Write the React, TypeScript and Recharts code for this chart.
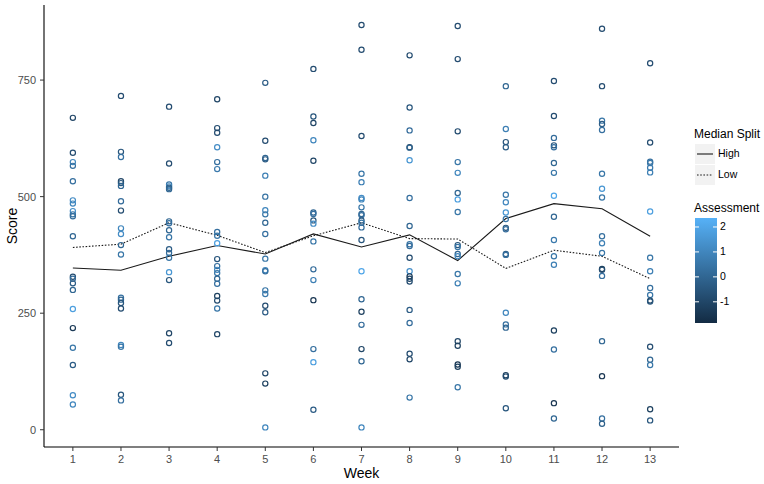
import { ComposedChart, Line, Scatter, XAxis, YAxis } from "recharts"

// week -> [score, assessment]
const week1 = [[669, -1], [594, -0.8], [574, 1], [566, 0.3], [533, 0.3], [492, 1.2], [485, 1], [469, 1.3], [462, 0.5], [458, 0.2], [415, 0], [328, -0.8], [324, 0.2], [314, -0.3], [300, 0], [259, 1.8], [218, -1.4], [176, 0.5], [139, -0.3], [74, 1.2], [54, 1]]
const week2 = [[716, -0.8], [596, -0.5], [585, 0.3], [533, -1], [529, -0.5], [523, 0], [490, 0.2], [470, -0.8], [432, 1], [420, 1.2], [396, 0], [376, 0.5], [283, 0.3], [279, 0], [272, -0.5], [260, -0.8], [182, 1], [178, 0.5], [75, -0.5], [63, 0.3]]
const week3 = [[693, -0.8], [571, -0.8], [526, 0.5], [522, 1], [519, -0.2], [516, 0], [447, 0], [443, 0.3], [428, 0], [413, 0.5], [387, -0.3], [379, 0.2], [369, 0.5], [338, 1.5], [321, -0.5], [207, -1], [186, -0.8]]
const week4 = [[709, -1], [647, -0.8], [637, -0.8], [606, 1.2], [574, 0.3], [559, 0.6], [424, 0.3], [416, 0.5], [400, 1.8], [366, -0.5], [351, 0.3], [343, 1], [336, 0.5], [324, 0], [313, 0.3], [287, -1.2], [277, -0.8], [260, 0.5], [205, -1]]
const week5 = [[744, -0.3], [620, -0.8], [583, 0], [580, -0.3], [545, 0.8], [500, 0.4], [471, 1], [462, 0.5], [444, 0], [420, 0.3], [367, 0.5], [342, 1], [340, 0.3], [299, 0.5], [291, 0.6], [266, -0.8], [252, -0.3], [121, -1], [99, -1.2], [5, 1]]
const week6 = [[774, -0.8], [672, -0.5], [658, -1], [621, 1], [577, -1], [466, 0], [463, 0.3], [449, -0.5], [442, 1.2], [404, 0.5], [344, 0.2], [321, 0.8], [278, -1.5], [173, 0.3], [145, 1.8], [43, -0.3]]
const week7 = [[868, -0.8], [815, -0.8], [630, -0.8], [549, 0.5], [531, 0.8], [497, 1.2], [494, 1], [477, 0.5], [463, 0], [460, 0.3], [449, -0.3], [444, 0.5], [434, 0.2], [407, -0.5], [340, 2], [280, 0], [253, -1.2], [225, 0.2], [173, -1], [147, 0], [5, 1]]
const week8 = [[803, -0.8], [691, -0.5], [642, 0.2], [606, -1.2], [605, 0], [578, 1.5], [497, 0.3], [437, 0], [398, 0.5], [394, 0.2], [369, -0.8], [340, 1.3], [329, -1.5], [324, -1], [318, -0.8], [257, -0.3], [229, 0.2], [163, -0.8], [151, -1], [69, 0.5]]
const week9 = [[866, -0.8], [795, -0.8], [640, -0.8], [574, 0.5], [551, 1], [508, 0], [494, 1.8], [467, 0.5], [396, -0.5], [392, 0.5], [377, 0], [372, 1], [334, 0.5], [314, 0.8], [190, -1], [180, -1.2], [140, -1.5], [135, -1.2], [91, 0.5]]
const week10 = [[737, 0], [645, 0.8], [617, -0.5], [606, -0.3], [504, 0.5], [488, 1], [466, 1.5], [452, 0.5], [433, -0.5], [430, 0.2], [377, -0.2], [375, 0.3], [251, 1], [226, 0.3], [219, 0], [117, -1.2], [114, -0.8], [46, -0.5]]
const week11 = [[748, -0.8], [673, -0.8], [626, 0.2], [610, -0.5], [606, 0.3], [572, 0], [551, 0.5], [502, 2], [457, 0], [407, 0.6], [372, 0.5], [354, 0.8], [213, -1.2], [172, 0.3], [57, -1.5], [24, 0]]
const week12 = [[860, -0.8], [737, -0.8], [663, 0.5], [656, -0.3], [643, 0.3], [549, 0.5], [517, 1.5], [498, 0.5], [415, 0.3], [400, 0.8], [379, 0.5], [345, -1.2], [343, -0.8], [330, 0.3], [190, 0], [115, -1.5], [24, 0.3], [13, -0.2]]
const week13 = [[786, -0.8], [616, -0.8], [575, 0.3], [572, 0.5], [562, 0.6], [552, 0.8], [468, 1.8], [369, 0.5], [340, 0.8], [304, 0.3], [289, 0.5], [277, -1.2], [275, -0.5], [178, -0.8], [150, 0], [139, 0.5], [44, -1.2], [20, -0.5]]

const weeks = [1, 2, 3, 4, 5, 6, 7, 8, 9, 10, 11, 12, 13]
const highMedian = [347, 342, 372, 395, 377, 420, 392, 418, 363, 453, 485, 474, 415]
const lowMedian = [391, 398, 444, 417, 380, 416, 444, 410, 409, 346, 385, 372, 324]
const yTicks = [0, 250, 500, 750]
const legendTicks = [2, 1, 0, -1]

const allWeeks = [week1, week2, week3, week4, week5, week6, week7, week8, week9, week10, week11, week12, week13]
const points = allWeeks.flatMap((pts, i) => pts.map(([score, assess]) => ({ week: weeks[i], score, assess })))
const lineRows = weeks.map((w, i) => ({ week: w, high: highMedian[i], low: lowMedian[i] }))

// ggplot default continuous scale
const ASSESS_MIN = -1.85
const ASSESS_MAX = 2.36
const LOW_RGB = [0x13, 0x2b, 0x43]
const HIGH_RGB = [0x56, 0xb1, 0xf7]

function colorOf(v: number) {
  const t = Math.max(0, Math.min(1, (v - ASSESS_MIN) / (ASSESS_MAX - ASSESS_MIN)))
  const c = LOW_RGB.map((lo, k) => Math.round(lo + (HIGH_RGB[k] - lo) * t))
  return `rgb(${c[0]},${c[1]},${c[2]})`
}

const FONT = "'Liberation Sans', Arial, sans-serif"
const BAR_TOP = 218
const BAR_H = 105

function Legend() {
  const pxPerUnit = BAR_H / (ASSESS_MAX - ASSESS_MIN)
  return (
    <div style={{ position: "absolute", left: 694, top: 0, fontFamily: FONT, color: "#000" }}>
      <div style={{ position: "absolute", top: 127, left: 0, fontSize: 12, whiteSpace: "nowrap" }}>Median Split</div>
      {[
        { label: "High", dash: undefined as string | undefined, top: 144 },
        { label: "Low", dash: "1.6 1.6", top: 165 },
      ].map((k) => (
        <div key={k.label}>
          <svg style={{ position: "absolute", left: 1, top: k.top }} width={20} height={20}>
            <rect x={0} y={0} width={20} height={20} fill="#f2f2f2" />
            <line x1={2} x2={18} y1={10} y2={10} stroke="#1a1a1a" strokeWidth={1.1} strokeDasharray={k.dash} />
          </svg>
          <div style={{ position: "absolute", left: 24, top: k.top + 3, fontSize: 10.5 }}>{k.label}</div>
        </div>
      ))}
      <div style={{ position: "absolute", top: 201, left: 0, fontSize: 12, whiteSpace: "nowrap" }}>Assessment</div>
      <svg style={{ position: "absolute", left: 1, top: BAR_TOP }} width={22} height={BAR_H}>
        <defs>
          <linearGradient id="assessGrad" x1="0" y1="0" x2="0" y2="1">
            <stop offset="0%" stopColor={colorOf(ASSESS_MAX)} />
            <stop offset="100%" stopColor={colorOf(ASSESS_MIN)} />
          </linearGradient>
        </defs>
        <rect x={0} y={0} width={22} height={BAR_H} fill="url(#assessGrad)" />
        {legendTicks.map((t) => {
          const y = (ASSESS_MAX - t) * pxPerUnit
          return (
            <g key={t} stroke="#fff" strokeWidth={1}>
              <line x1={0} x2={4} y1={y} y2={y} />
              <line x1={18} x2={22} y1={y} y2={y} />
            </g>
          )
        })}
      </svg>
      {legendTicks.map((t) => (
        <div
          key={t}
          style={{ position: "absolute", left: 26, top: BAR_TOP + (ASSESS_MAX - t) * pxPerUnit - 7, fontSize: 10.5 }}
        >
          {t}
        </div>
      ))}
    </div>
  )
}

export default function App() {
  return (
    <div style={{ position: "absolute", left: 0, top: 0, width: 764, height: 484, background: "#fff" }}>
      <ComposedChart
        width={764}
        height={484}
        data={lineRows}
        margin={{ top: 5, right: 85, bottom: 0, left: 0 }}
        style={{ fontFamily: FONT }}
      >
        <XAxis
          type="number"
          dataKey="week"
          domain={[0.4, 13.6]}
          ticks={weeks}
          height={37}
          tickSize={4}
          tickMargin={4}
          interval={0}
          axisLine={{ stroke: "#000", strokeWidth: 1.1 }}
          tickLine={{ stroke: "#333" }}
          tick={{ fontSize: 11, fill: "#4d4d4d" }}
          label={{ value: "Week", position: "insideBottom", offset: 6, fill: "#000", fontSize: 14 }}
        />
        <YAxis
          type="number"
          domain={[-37, 911]}
          ticks={yTicks}
          width={44}
          tickSize={4}
          tickMargin={4}
          axisLine={{ stroke: "#000", strokeWidth: 1.1 }}
          tickLine={{ stroke: "#333" }}
          tick={{ fontSize: 11, fill: "#4d4d4d" }}
          label={(p: { viewBox?: { y: number; height: number } }) => {
            const cy = (p.viewBox?.y ?? 0) + (p.viewBox?.height ?? 0) / 2
            return (
              <text
                x={12}
                y={cy}
                transform={`rotate(-90, 12, ${cy})`}
                textAnchor="middle"
                dominantBaseline="central"
                fontSize={14}
                fill="#000"
              >
                Score
              </text>
            )
          }}
        />
        <Scatter
          data={points}
          dataKey="score"
          isAnimationActive={false}
          shape={(props: { cx?: number; cy?: number; payload?: { assess: number } }) => (
            <circle
              cx={props.cx}
              cy={props.cy}
              r={2.6}
              fill="none"
              stroke={colorOf(props.payload?.assess ?? 0)}
              strokeWidth={1.2}
            />
          )}
        />
        <Line type="linear" dataKey="high" stroke="#1a1a1a" strokeWidth={1.1} dot={false} isAnimationActive={false} />
        <Line
          type="linear"
          dataKey="low"
          stroke="#1a1a1a"
          strokeWidth={1.1}
          strokeDasharray="1.6 1.6"
          dot={false}
          isAnimationActive={false}
        />
      </ComposedChart>
      <Legend />
    </div>
  )
}
